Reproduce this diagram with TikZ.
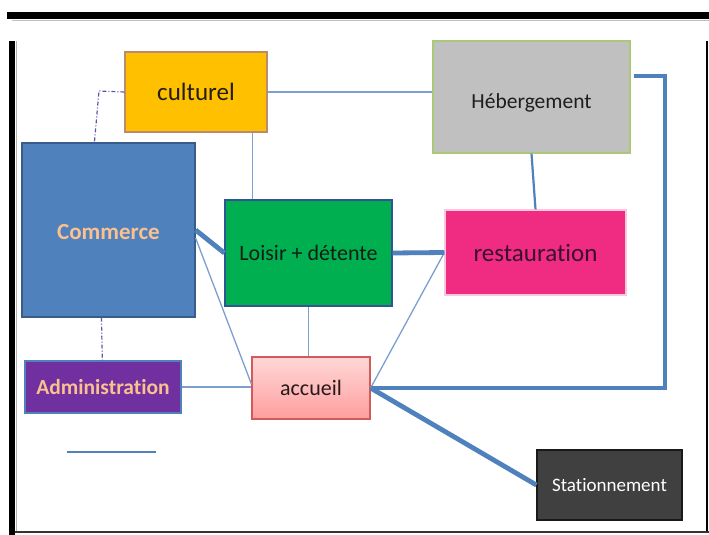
\documentclass[tikz,border=0pt]{standalone}
\usepackage{fontspec}
\setmainfont[Ligatures=NoCommon]{Carlito}
\usetikzlibrary{calc}
\definecolor{conblue}{HTML}{4F81BD}
\definecolor{thinblue}{HTML}{7C9FD0}
\definecolor{peach}{HTML}{FAC090}
\tikzset{
  box/.style={draw, line width=1.2pt, inner sep=0pt, align=center},
  thin/.style={draw=thinblue, line width=1.3pt},
  thick/.style={draw=conblue, line width=4.8pt},
  mid/.style={draw=conblue, line width=2.2pt},
  ddot/.style={draw=gray!70!blue, line width=1.2pt, dash pattern=on 4pt off 2pt on 1pt off 2pt},
}
\begin{document}
\begin{tikzpicture}[x=1pt,y=-1pt]
\useasboundingbox (0,0) rectangle (709,535);
\fill[white] (0,0) rectangle (709,535);
% frame
\fill[black] (7,12) rectangle (709,19);
\draw[gray!50, line width=0.8pt] (12,20) -- (709,20);
\fill[black] (9,41) rectangle (15,535);
\draw[gray!60, line width=0.8pt] (16,41) -- (16,532);
\draw[black, line width=1.6pt] (707,41) -- (707,532);
\draw[black!80, line width=1.6pt] (15,532) -- (709,532);
% nodes
\node[box, fill={rgb,255:red,255;green,192;blue,0}, draw={rgb,255:red,185;green,140;blue,110}, minimum width=142pt, minimum height=80pt, text={rgb,255:red,35;green,30;blue,20}, font=\fontsize{25}{28}\selectfont] (culturel) at (196,92) {culturel};
\node[box, fill={rgb,255:red,79;green,129;blue,189}, draw={rgb,255:red,56;green,93;blue,138}, minimum width=173pt, minimum height=174pt, text=peach, font=\bfseries\fontsize{23}{26}\selectfont] (commerce) at (108.5,230) {\raisebox{-9pt}[0pt][0pt]{Commerce}};
\node[box, fill={rgb,255:red,192;green,192;blue,192}, draw={rgb,255:red,170;green,200;blue,120}, minimum width=197pt, minimum height=112pt, text={rgb,255:red,30;green,30;blue,30}, font=\fontsize{21.5}{24}\selectfont] (heb) at (531.5,97) {\raisebox{-11pt}[0pt][0pt]{Hébergement}};
\node[box, fill={rgb,255:red,239;green,43;blue,130}, draw={rgb,255:red,250;green,200;blue,220}, minimum width=181pt, minimum height=85pt, text={rgb,255:red,60;green,15;blue,45}, font=\fontsize{25}{28}\selectfont] (resto) at (535.5,252.5) {restauration};
\node[box, fill={rgb,255:red,0;green,176;blue,80}, draw={rgb,255:red,47;green,85;blue,151}, minimum width=167pt, minimum height=106pt, text={rgb,255:red,20;green,30;blue,20}, font=\fontsize{22}{25}\selectfont] (loisir) at (308.5,253) {Loisir + détente};
\node[box, top color={rgb,255:red,255;green,215;blue,215}, bottom color={rgb,255:red,255;green,158;blue,158}, draw={rgb,255:red,210;green,90;blue,90}, minimum width=118pt, minimum height=62pt, text={rgb,255:red,40;green,25;blue,25}, font=\fontsize{22}{25}\selectfont] (accueil) at (311,388) {accueil};
\node[box, fill={rgb,255:red,112;green,48;blue,160}, draw={rgb,255:red,79;green,129;blue,189}, minimum width=156pt, minimum height=52pt, text=peach, font=\bfseries\fontsize{21.5}{24}\selectfont] (admin) at (103,387) {Administration};
\node[box, fill={rgb,255:red,64;green,64;blue,64}, draw={rgb,255:red,25;green,25;blue,25}, minimum width=145pt, minimum height=70pt, text=white, font=\fontsize{19}{22}\selectfont] (station) at (609.5,485) {Stationnement};
% connectors
\draw[thin] (culturel.east) -- (culturel.east -| heb.west);
\coordinate (cs) at ($(culturel.south east)+(-15,0)$);
\draw[thin] (cs) -- (cs |- loisir.north);
\coordinate (dd) at (99,91);
\draw[ddot] (culturel.west) -- (dd) -- ($(commerce.north west)+(73,0)$);
\draw[ddot] ($(commerce.south west)+(80,0)$) -- ($(admin.north west)+(78,0)$);
\draw[thin] ($(commerce.east)+(0,8)$) -- ($(accueil.west)+(0,-4)$);
\draw[thin] (admin.east) -- (admin.east -| accueil.west);
\draw[thin] (loisir.south) -- (loisir.south |- accueil.north);
\draw[thin] (resto.west) -- (accueil.east);
\draw[mid] (heb.south) -- (resto.north);
\draw[thick] (commerce.east) -- (loisir.west);
\draw[thick] (loisir.east) -- (resto.west);
\draw[thick] (accueil.east) -- (station.west);
\coordinate (r1) at (665,76);
\draw[thick, line join=miter] ($(r1 -| heb.east)+(3,0)$) -- (r1) -- (r1 |- accueil.east) -- (accueil.east);
% short line
\coordinate (s1) at (67,452);
\coordinate (s2) at (156,452);
\draw[draw=conblue, line width=1.3pt] (s1) -- (s2);
\end{tikzpicture}
\end{document}
